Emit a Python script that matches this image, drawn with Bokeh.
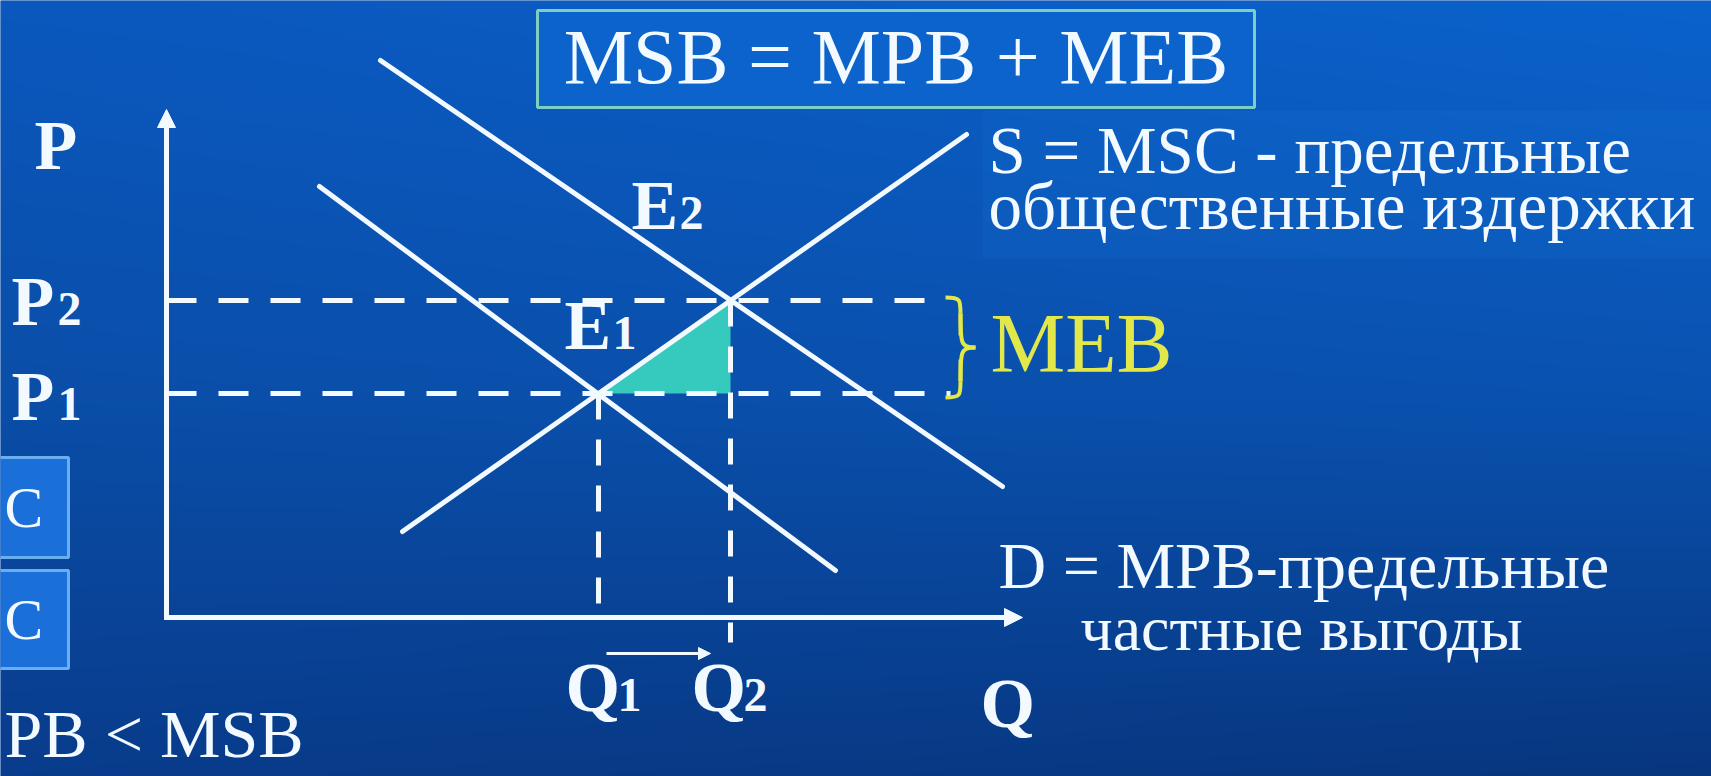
import numpy as np
from bokeh.plotting import figure
from bokeh.models import Range1d, Arrow, NormalHead
from bokeh.core.properties import value
from bokeh.embed import file_html
from bokeh.resources import INLINE

# ---------------- data (diagram values, axis units) ----------------
Q_LABELS = ["1", "2"]
Q_VALUES = [43.2, 56.4]          # Q1, Q2
P_LABELS = ["1", "2"]
P_VALUES = [22.4, 31.7]          # P1, P2
E_LABELS = ["1", "2"]

MPB_Q = [15.3, 66.9]             # D = MPB
MPB_P = [43.1, 4.7]
MSC_Q = [23.6, 80.0]             # S = MSC
MSC_P = [8.6, 48.3]
MSB_Q = [21.4, 83.6]             # MSB = MPB + MEB
MSB_P = [55.7, 13.1]

AXIS_Q_MAX = 85.6
AXIS_P_MAX = 50.8
P_DASH_END = [78.4, 77.2]        # end of P1 / P2 dashed guides
Q_DASH_END = [0.0, -2.5]         # lower end of Q1 / Q2 dashed guides

TITLE = "MSB = MPB + MEB"
S_TEXT = ["S = MSC - предельные", "общественные издержки"]
D_TEXT = ["D = MPB-предельные", "частные выгоды"]
MEB_TEXT = "MEB"
LEFT_TEXT = "PB < MSB"

# ---------------- layout ----------------
W, H = 1711, 776
OX, OY = 166, 617                # pixel of axis origin
UNIT = 10.0                      # pixels per axis unit
BASE_SHIFT = 0.36                # baseline correction (em)


def X(px):
    return (px - OX) / UNIT


def Y(py):
    return (OY - py) / UNIT


x0, x1 = X(0), X(W)
y0, y1 = Y(H), Y(0)

SERIF = value("Liberation Serif")
WHITE = "#f2f9ff"
YELLOW = "#e2e84a"

p = figure(width=W, height=H, x_range=Range1d(x0, x1), y_range=Range1d(y0, y1),
           output_backend="svg", toolbar_location=None, min_border=0,
           x_axis_location=None, y_axis_location=None)
p.grid.visible = False
p.outline_line_color = None
p.background_fill_color = "#0a50ab"
p.border_fill_color = "#0a50ab"


def txt(x, y, text, size, color=WHITE, bold=False, align="left"):
    """Text with its alphabetic baseline at y (axis units)."""
    ys = [v + BASE_SHIFT * size / UNIT for v in y]
    p.text(x=x, y=ys, text=text, text_font=SERIF,
           text_font_style="bold" if bold else "normal",
           text_font_size=f"{size}px", text_color=color,
           text_align=align, text_baseline="alphabetic")


# ---------------- background gradient ----------------
rows, cols = 388, 120
stops = np.array([0.0, 400.0, H])
left_c = np.array([[10, 88, 190], [10, 78, 168], [9, 60, 140]], float)
right_c = np.array([[11, 98, 204], [10, 82, 176], [7, 54, 126]], float)
img = np.empty((rows, cols), dtype=np.uint32)
view = img.view(dtype=np.uint8).reshape((rows, cols, 4))
t = (np.arange(cols) + 0.5) / cols
for r in range(rows):
    py = H * (1 - (r + 0.5) / rows)
    lc = np.array([np.interp(py, stops, left_c[:, k]) for k in range(3)])
    rc = np.array([np.interp(py, stops, right_c[:, k]) for k in range(3)])
    col = lc[None, :] * (1 - t[:, None]) + rc[None, :] * t[:, None]
    view[r, :, 0:3] = col.astype(np.uint8)
    view[r, :, 3] = 255
p.image_rgba(image=[img], x=x0, y=y0, dw=x1 - x0, dh=y1 - y0)

# lighter panel behind the S = MSC caption
p.quad(left=X(982), right=x1, top=Y(110), bottom=Y(258),
       fill_color="#2a86ee", fill_alpha=0.10, line_color=None)

# title box
p.quad(left=X(537), right=X(1254), top=Y(10), bottom=Y(107),
       fill_color="#0b63cb", line_color="#7ccfc2", line_width=3)
txt([(X(537) + X(1254)) / 2], [Y(84)], [TITLE], 78, align="center")

# left side boxes (cut off by the slide edge)
for top, bot in [(457, 557), (570, 668)]:
    p.quad(left=x0 - 2, right=X(68), top=Y(top), bottom=Y(bot),
           fill_color="#1a6fd8", line_color="#6aaef0", line_width=3)
    txt([X(4)], [Y((top + bot) / 2 + 21)], ["C"], 58)

# ---------------- MEB triangle ----------------
p.patch(x=[Q_VALUES[0], Q_VALUES[1], Q_VALUES[1]],
        y=[P_VALUES[0], P_VALUES[1], P_VALUES[0]],
        fill_color="#36cabf", line_color=None)

# ---------------- dashed guides ----------------
p.segment(x0=[0, 0], y0=P_VALUES, x1=P_DASH_END, y1=P_VALUES,
          line_color=WHITE, line_width=5, line_dash="30 22")
p.segment(x0=Q_VALUES, y0=P_VALUES, x1=Q_VALUES, y1=Q_DASH_END,
          line_color=WHITE, line_width=5, line_dash="26 20")

# ---------------- curves ----------------
for qs, ps in [(MPB_Q, MPB_P), (MSC_Q, MSC_P), (MSB_Q, MSB_P)]:
    p.line(qs, ps, line_color=WHITE, line_width=5, line_cap="round")

# ---------------- axes ----------------
p.line([0, 0, AXIS_Q_MAX - 1.2], [AXIS_P_MAX - 1.2, 0, 0],
       line_color=WHITE, line_width=5, line_join="miter")
p.add_layout(Arrow(end=NormalHead(size=18, fill_color=WHITE, line_color=WHITE, line_width=1),
                   x_start=0, y_start=AXIS_P_MAX - 2.5, x_end=0, y_end=AXIS_P_MAX,
                   line_color=WHITE, line_width=5))
p.add_layout(Arrow(end=NormalHead(size=18, fill_color=WHITE, line_color=WHITE, line_width=1),
                   x_start=AXIS_Q_MAX - 2.5, y_start=0, x_end=AXIS_Q_MAX, y_end=0,
                   line_color=WHITE, line_width=5))

# Q1 -> Q2 arrow
p.add_layout(Arrow(end=NormalHead(size=12, fill_color=WHITE, line_color=WHITE, line_width=1),
                   x_start=Q_VALUES[0] + 0.8, y_start=-3.6,
                   x_end=Q_VALUES[1] - 2.0, y_end=-3.6,
                   line_color=WHITE, line_width=3))

# ---------------- MEB brace ----------------
bt, bb = P_VALUES[1] + 0.3, P_VALUES[0] - 0.4
bm = (bt + bb) / 2
bx0, bx1, bx2 = X(945), X(960), X(975)
p.bezier(x0=[bx0, bx1, bx2, bx1], y0=[bt, bt - 1.6, bm, bb + 1.6],
         x1=[bx1, bx2, bx1, bx0], y1=[bt - 1.6, bm, bb + 1.6, bb],
         cx0=[bx1, bx1, bx1, bx1], cy0=[bt, bm + 0.4, bm, bb + 0.2],
         cx1=[bx1, bx1, bx1, bx1], cy1=[bt - 0.2, bm, bm - 0.4, bb],
         line_color=YELLOW, line_width=4)
p.segment(x0=[bx1, bx1], y0=[bt - 1.6, bb + 1.6], x1=[bx1, bx1], y1=[bm + 1.2, bm - 1.2],
          line_color=YELLOW, line_width=4)
txt([X(990)], [Y(373)], [MEB_TEXT], 84, color=YELLOW)

# ---------------- bold letter labels with index digits ----------------
BIG, SMALL = 70, 48


def sub_label(letter, digit, lx, by, dx):
    txt([lx], [by], [letter], BIG, bold=True)
    if digit:
        txt([lx + dx], [by], [digit], SMALL, bold=True)


sub_label("P", "", X(34), Y(170), 0)
sub_label("P", P_LABELS[0], X(11), P_VALUES[0] - 2.8, 4.6)
sub_label("P", P_LABELS[1], X(11), P_VALUES[1] - 2.6, 4.6)
sub_label("E", E_LABELS[0], Q_VALUES[0] - 3.4, P_VALUES[0] + 4.3, 4.8)
sub_label("E", E_LABELS[1], Q_VALUES[1] - 9.9, P_VALUES[1] + 7.0, 4.8)
sub_label("Q", Q_LABELS[0], Q_VALUES[0] - 3.3, -9.5, 5.2)
sub_label("Q", Q_LABELS[1], Q_VALUES[1] - 3.9, -9.5, 5.2)
sub_label("Q", "", X(980), Y(728), 0)

# ---------------- captions ----------------
txt([X(988)] * 2, [Y(174), Y(230)], S_TEXT, 67)
txt([X(998)], [Y(589)], D_TEXT[:1], 66)
txt([X(1080)], [Y(651)], D_TEXT[1:], 64)
txt([X(4)], [Y(758)], [LEFT_TEXT], 68)

open("out.html", "w").write(file_html(p, INLINE))
